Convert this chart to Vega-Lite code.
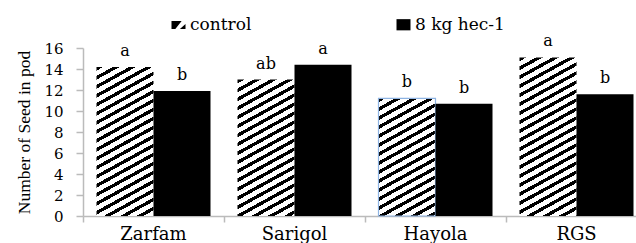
{
  "$schema": "https://vega.github.io/schema/vega-lite/v6.json",
  "width": 564,
  "height": 168,
  "padding": {"left": 15, "top": 16, "right": 0, "bottom": 0},
  "background": "white",
  "config": {"view": {"stroke": null}, "font": "DejaVu Serif", "legend": {"labelFont": "DejaVu Serif", "labelFontSize": 17, "labelColor": "#000"}},
  "data": {"values": [
    {"variety": "Zarfam", "treatment": "control", "value": 14.2, "letter": "a"},
    {"variety": "Zarfam", "treatment": "8 kg hec-1", "value": 11.9, "letter": "b"},
    {"variety": "Sarigol", "treatment": "control", "value": 13.0, "letter": "ab"},
    {"variety": "Sarigol", "treatment": "8 kg hec-1", "value": 14.4, "letter": "a"},
    {"variety": "Hayola", "treatment": "control", "value": 11.2, "letter": "b"},
    {"variety": "Hayola", "treatment": "8 kg hec-1", "value": 10.7, "letter": "b"},
    {"variety": "RGS", "treatment": "control", "value": 15.1, "letter": "a"},
    {"variety": "RGS", "treatment": "8 kg hec-1", "value": 11.6, "letter": "b"}
  ]},
  "encoding": {
    "x": {
      "field": "variety", "type": "nominal",
      "sort": ["Zarfam", "Sarigol", "Hayola", "RGS"],
      "scale": {"domain": ["Zarfam", "Sarigol", "Hayola", "RGS"], "paddingInner": 0, "paddingOuter": 0},
      "axis": {"title": null, "labelAngle": 0, "bandPosition": 0, "ticks": true, "tickSize": 6, "tickColor": "#bbbbbb", "domainColor": "#bbbbbb", "domainWidth": 1.5, "tickWidth": 1.5, "labelFont": "DejaVu Serif", "labelFontSize": 18, "labelColor": "#000", "labelPadding": 3, "grid": false}
    },
    "xOffset": {
      "field": "treatment", "type": "nominal",
      "sort": ["control", "8 kg hec-1"],
      "scale": {"domain": ["control", "8 kg hec-1"], "paddingInner": 0, "paddingOuter": 0.2368}
    },
    "y": {
      "field": "value", "type": "quantitative",
      "scale": {"domain": [0, 16], "nice": false},
      "axis": {"title": "Number of Seed in pod", "titleFont": "Liberation Serif", "titleFontSize": 17.5, "titleFontWeight": "normal", "titleColor": "#000", "titlePadding": 10, "values": [0, 2, 4, 6, 8, 10, 12, 14, 16], "labelFont": "DejaVu Serif", "labelFontSize": 15, "labelColor": "#000", "labelPadding": 13, "tickSize": 7, "tickColor": "#bbbbbb", "tickWidth": 1.5, "domainColor": "#bbbbbb", "domainWidth": 1.5, "grid": false}
    }
  },
  "layer": [
    {
      "transform": [{"filter": "datum.variety === 'Zarfam' && datum.treatment === 'control'"}],
      "mark": {"type": "bar", "fillOpacity": 1, "fill": {"gradient": "linear", "x1": 0, "y1": 0, "x2": 0.25646, "y2": 1.21971, "stops": [
{"offset":0,"color":"#000"},{"offset":0.0199,"color":"#000"},{"offset":0.0199,"color":"#fff"},{"offset":0.0474,"color":"#fff"},
{"offset":0.0474,"color":"#000"},{"offset":0.0673,"color":"#000"},{"offset":0.0673,"color":"#fff"},{"offset":0.0948,"color":"#fff"},
{"offset":0.0948,"color":"#000"},{"offset":0.1147,"color":"#000"},{"offset":0.1147,"color":"#fff"},{"offset":0.1422,"color":"#fff"},
{"offset":0.1422,"color":"#000"},{"offset":0.1621,"color":"#000"},{"offset":0.1621,"color":"#fff"},{"offset":0.1896,"color":"#fff"},
{"offset":0.1896,"color":"#000"},{"offset":0.2095,"color":"#000"},{"offset":0.2095,"color":"#fff"},{"offset":0.237,"color":"#fff"},
{"offset":0.237,"color":"#000"},{"offset":0.2569,"color":"#000"},{"offset":0.2569,"color":"#fff"},{"offset":0.2844,"color":"#fff"},
{"offset":0.2844,"color":"#000"},{"offset":0.3043,"color":"#000"},{"offset":0.3043,"color":"#fff"},{"offset":0.3318,"color":"#fff"},
{"offset":0.3318,"color":"#000"},{"offset":0.3517,"color":"#000"},{"offset":0.3517,"color":"#fff"},{"offset":0.3791,"color":"#fff"},
{"offset":0.3791,"color":"#000"},{"offset":0.399,"color":"#000"},{"offset":0.399,"color":"#fff"},{"offset":0.4265,"color":"#fff"},
{"offset":0.4265,"color":"#000"},{"offset":0.4464,"color":"#000"},{"offset":0.4464,"color":"#fff"},{"offset":0.4739,"color":"#fff"},
{"offset":0.4739,"color":"#000"},{"offset":0.4938,"color":"#000"},{"offset":0.4938,"color":"#fff"},{"offset":0.5213,"color":"#fff"},
{"offset":0.5213,"color":"#000"},{"offset":0.5412,"color":"#000"},{"offset":0.5412,"color":"#fff"},{"offset":0.5687,"color":"#fff"},
{"offset":0.5687,"color":"#000"},{"offset":0.5886,"color":"#000"},{"offset":0.5886,"color":"#fff"},{"offset":0.6161,"color":"#fff"},
{"offset":0.6161,"color":"#000"},{"offset":0.636,"color":"#000"},{"offset":0.636,"color":"#fff"},{"offset":0.6635,"color":"#fff"},
{"offset":0.6635,"color":"#000"},{"offset":0.6834,"color":"#000"},{"offset":0.6834,"color":"#fff"},{"offset":0.7109,"color":"#fff"},
{"offset":0.7109,"color":"#000"},{"offset":0.7308,"color":"#000"},{"offset":0.7308,"color":"#fff"},{"offset":0.7583,"color":"#fff"},
{"offset":0.7583,"color":"#000"},{"offset":0.7782,"color":"#000"},{"offset":0.7782,"color":"#fff"},{"offset":0.8057,"color":"#fff"},
{"offset":0.8057,"color":"#000"},{"offset":0.8256,"color":"#000"},{"offset":0.8256,"color":"#fff"},{"offset":0.8531,"color":"#fff"},
{"offset":0.8531,"color":"#000"},{"offset":0.873,"color":"#000"},{"offset":0.873,"color":"#fff"},{"offset":0.9005,"color":"#fff"},
{"offset":0.9005,"color":"#000"},{"offset":0.9204,"color":"#000"},{"offset":0.9204,"color":"#fff"},{"offset":0.9479,"color":"#fff"},
{"offset":0.9479,"color":"#000"},{"offset":0.9678,"color":"#000"},{"offset":0.9678,"color":"#fff"},{"offset":0.9953,"color":"#fff"},
{"offset":0.9953,"color":"#000"},{"offset":1,"color":"#000"}
      ]}}
    },
    {
      "transform": [{"filter": "datum.variety === 'Sarigol' && datum.treatment === 'control'"}],
      "mark": {"type": "bar", "fillOpacity": 1, "fill": {"gradient": "linear", "x1": 0, "y1": 0, "x2": 0.30351, "y2": 1.3215, "stops": [
{"offset":0,"color":"#000"},{"offset":0.0199,"color":"#000"},{"offset":0.0199,"color":"#fff"},{"offset":0.0474,"color":"#fff"},
{"offset":0.0474,"color":"#000"},{"offset":0.0673,"color":"#000"},{"offset":0.0673,"color":"#fff"},{"offset":0.0948,"color":"#fff"},
{"offset":0.0948,"color":"#000"},{"offset":0.1147,"color":"#000"},{"offset":0.1147,"color":"#fff"},{"offset":0.1422,"color":"#fff"},
{"offset":0.1422,"color":"#000"},{"offset":0.1621,"color":"#000"},{"offset":0.1621,"color":"#fff"},{"offset":0.1896,"color":"#fff"},
{"offset":0.1896,"color":"#000"},{"offset":0.2095,"color":"#000"},{"offset":0.2095,"color":"#fff"},{"offset":0.237,"color":"#fff"},
{"offset":0.237,"color":"#000"},{"offset":0.2569,"color":"#000"},{"offset":0.2569,"color":"#fff"},{"offset":0.2844,"color":"#fff"},
{"offset":0.2844,"color":"#000"},{"offset":0.3043,"color":"#000"},{"offset":0.3043,"color":"#fff"},{"offset":0.3318,"color":"#fff"},
{"offset":0.3318,"color":"#000"},{"offset":0.3517,"color":"#000"},{"offset":0.3517,"color":"#fff"},{"offset":0.3791,"color":"#fff"},
{"offset":0.3791,"color":"#000"},{"offset":0.399,"color":"#000"},{"offset":0.399,"color":"#fff"},{"offset":0.4265,"color":"#fff"},
{"offset":0.4265,"color":"#000"},{"offset":0.4464,"color":"#000"},{"offset":0.4464,"color":"#fff"},{"offset":0.4739,"color":"#fff"},
{"offset":0.4739,"color":"#000"},{"offset":0.4938,"color":"#000"},{"offset":0.4938,"color":"#fff"},{"offset":0.5213,"color":"#fff"},
{"offset":0.5213,"color":"#000"},{"offset":0.5412,"color":"#000"},{"offset":0.5412,"color":"#fff"},{"offset":0.5687,"color":"#fff"},
{"offset":0.5687,"color":"#000"},{"offset":0.5886,"color":"#000"},{"offset":0.5886,"color":"#fff"},{"offset":0.6161,"color":"#fff"},
{"offset":0.6161,"color":"#000"},{"offset":0.636,"color":"#000"},{"offset":0.636,"color":"#fff"},{"offset":0.6635,"color":"#fff"},
{"offset":0.6635,"color":"#000"},{"offset":0.6834,"color":"#000"},{"offset":0.6834,"color":"#fff"},{"offset":0.7109,"color":"#fff"},
{"offset":0.7109,"color":"#000"},{"offset":0.7308,"color":"#000"},{"offset":0.7308,"color":"#fff"},{"offset":0.7583,"color":"#fff"},
{"offset":0.7583,"color":"#000"},{"offset":0.7782,"color":"#000"},{"offset":0.7782,"color":"#fff"},{"offset":0.8057,"color":"#fff"},
{"offset":0.8057,"color":"#000"},{"offset":0.8256,"color":"#000"},{"offset":0.8256,"color":"#fff"},{"offset":0.8531,"color":"#fff"},
{"offset":0.8531,"color":"#000"},{"offset":0.873,"color":"#000"},{"offset":0.873,"color":"#fff"},{"offset":0.9005,"color":"#fff"},
{"offset":0.9005,"color":"#000"},{"offset":0.9204,"color":"#000"},{"offset":0.9204,"color":"#fff"},{"offset":0.9479,"color":"#fff"},
{"offset":0.9479,"color":"#000"},{"offset":0.9678,"color":"#000"},{"offset":0.9678,"color":"#fff"},{"offset":0.9953,"color":"#fff"},
{"offset":0.9953,"color":"#000"},{"offset":1,"color":"#000"}
      ]}}
    },
    {
      "transform": [{"filter": "datum.variety === 'Hayola' && datum.treatment === 'control'"}],
      "mark": {"type": "bar", "fillOpacity": 1, "stroke": "#8eb4e3", "strokeWidth": 1.2, "fill": {"gradient": "linear", "x1": 0, "y1": 0, "x2": 0.40191, "y2": 1.50765, "stops": [
{"offset":0,"color":"#000"},{"offset":0.0199,"color":"#000"},{"offset":0.0199,"color":"#fff"},{"offset":0.0474,"color":"#fff"},
{"offset":0.0474,"color":"#000"},{"offset":0.0673,"color":"#000"},{"offset":0.0673,"color":"#fff"},{"offset":0.0948,"color":"#fff"},
{"offset":0.0948,"color":"#000"},{"offset":0.1147,"color":"#000"},{"offset":0.1147,"color":"#fff"},{"offset":0.1422,"color":"#fff"},
{"offset":0.1422,"color":"#000"},{"offset":0.1621,"color":"#000"},{"offset":0.1621,"color":"#fff"},{"offset":0.1896,"color":"#fff"},
{"offset":0.1896,"color":"#000"},{"offset":0.2095,"color":"#000"},{"offset":0.2095,"color":"#fff"},{"offset":0.237,"color":"#fff"},
{"offset":0.237,"color":"#000"},{"offset":0.2569,"color":"#000"},{"offset":0.2569,"color":"#fff"},{"offset":0.2844,"color":"#fff"},
{"offset":0.2844,"color":"#000"},{"offset":0.3043,"color":"#000"},{"offset":0.3043,"color":"#fff"},{"offset":0.3318,"color":"#fff"},
{"offset":0.3318,"color":"#000"},{"offset":0.3517,"color":"#000"},{"offset":0.3517,"color":"#fff"},{"offset":0.3791,"color":"#fff"},
{"offset":0.3791,"color":"#000"},{"offset":0.399,"color":"#000"},{"offset":0.399,"color":"#fff"},{"offset":0.4265,"color":"#fff"},
{"offset":0.4265,"color":"#000"},{"offset":0.4464,"color":"#000"},{"offset":0.4464,"color":"#fff"},{"offset":0.4739,"color":"#fff"},
{"offset":0.4739,"color":"#000"},{"offset":0.4938,"color":"#000"},{"offset":0.4938,"color":"#fff"},{"offset":0.5213,"color":"#fff"},
{"offset":0.5213,"color":"#000"},{"offset":0.5412,"color":"#000"},{"offset":0.5412,"color":"#fff"},{"offset":0.5687,"color":"#fff"},
{"offset":0.5687,"color":"#000"},{"offset":0.5886,"color":"#000"},{"offset":0.5886,"color":"#fff"},{"offset":0.6161,"color":"#fff"},
{"offset":0.6161,"color":"#000"},{"offset":0.636,"color":"#000"},{"offset":0.636,"color":"#fff"},{"offset":0.6635,"color":"#fff"},
{"offset":0.6635,"color":"#000"},{"offset":0.6834,"color":"#000"},{"offset":0.6834,"color":"#fff"},{"offset":0.7109,"color":"#fff"},
{"offset":0.7109,"color":"#000"},{"offset":0.7308,"color":"#000"},{"offset":0.7308,"color":"#fff"},{"offset":0.7583,"color":"#fff"},
{"offset":0.7583,"color":"#000"},{"offset":0.7782,"color":"#000"},{"offset":0.7782,"color":"#fff"},{"offset":0.8057,"color":"#fff"},
{"offset":0.8057,"color":"#000"},{"offset":1,"color":"#000"}
      ]}}
    },
    {
      "transform": [{"filter": "datum.variety === 'RGS' && datum.treatment === 'control'"}],
      "mark": {"type": "bar", "fillOpacity": 1, "fill": {"gradient": "linear", "x1": 0, "y1": 0, "x2": 0.22792, "y2": 1.15266, "stops": [
{"offset":0,"color":"#000"},{"offset":0.0199,"color":"#000"},{"offset":0.0199,"color":"#fff"},{"offset":0.0474,"color":"#fff"},
{"offset":0.0474,"color":"#000"},{"offset":0.0673,"color":"#000"},{"offset":0.0673,"color":"#fff"},{"offset":0.0948,"color":"#fff"},
{"offset":0.0948,"color":"#000"},{"offset":0.1147,"color":"#000"},{"offset":0.1147,"color":"#fff"},{"offset":0.1422,"color":"#fff"},
{"offset":0.1422,"color":"#000"},{"offset":0.1621,"color":"#000"},{"offset":0.1621,"color":"#fff"},{"offset":0.1896,"color":"#fff"},
{"offset":0.1896,"color":"#000"},{"offset":0.2095,"color":"#000"},{"offset":0.2095,"color":"#fff"},{"offset":0.237,"color":"#fff"},
{"offset":0.237,"color":"#000"},{"offset":0.2569,"color":"#000"},{"offset":0.2569,"color":"#fff"},{"offset":0.2844,"color":"#fff"},
{"offset":0.2844,"color":"#000"},{"offset":0.3043,"color":"#000"},{"offset":0.3043,"color":"#fff"},{"offset":0.3318,"color":"#fff"},
{"offset":0.3318,"color":"#000"},{"offset":0.3517,"color":"#000"},{"offset":0.3517,"color":"#fff"},{"offset":0.3791,"color":"#fff"},
{"offset":0.3791,"color":"#000"},{"offset":0.399,"color":"#000"},{"offset":0.399,"color":"#fff"},{"offset":0.4265,"color":"#fff"},
{"offset":0.4265,"color":"#000"},{"offset":0.4464,"color":"#000"},{"offset":0.4464,"color":"#fff"},{"offset":0.4739,"color":"#fff"},
{"offset":0.4739,"color":"#000"},{"offset":0.4938,"color":"#000"},{"offset":0.4938,"color":"#fff"},{"offset":0.5213,"color":"#fff"},
{"offset":0.5213,"color":"#000"},{"offset":0.5412,"color":"#000"},{"offset":0.5412,"color":"#fff"},{"offset":0.5687,"color":"#fff"},
{"offset":0.5687,"color":"#000"},{"offset":0.5886,"color":"#000"},{"offset":0.5886,"color":"#fff"},{"offset":0.6161,"color":"#fff"},
{"offset":0.6161,"color":"#000"},{"offset":0.636,"color":"#000"},{"offset":0.636,"color":"#fff"},{"offset":0.6635,"color":"#fff"},
{"offset":0.6635,"color":"#000"},{"offset":0.6834,"color":"#000"},{"offset":0.6834,"color":"#fff"},{"offset":0.7109,"color":"#fff"},
{"offset":0.7109,"color":"#000"},{"offset":0.7308,"color":"#000"},{"offset":0.7308,"color":"#fff"},{"offset":0.7583,"color":"#fff"},
{"offset":0.7583,"color":"#000"},{"offset":0.7782,"color":"#000"},{"offset":0.7782,"color":"#fff"},{"offset":0.8057,"color":"#fff"},
{"offset":0.8057,"color":"#000"},{"offset":0.8256,"color":"#000"},{"offset":0.8256,"color":"#fff"},{"offset":0.8531,"color":"#fff"},
{"offset":0.8531,"color":"#000"},{"offset":0.873,"color":"#000"},{"offset":0.873,"color":"#fff"},{"offset":0.9005,"color":"#fff"},
{"offset":0.9005,"color":"#000"},{"offset":0.9204,"color":"#000"},{"offset":0.9204,"color":"#fff"},{"offset":0.9479,"color":"#fff"},
{"offset":0.9479,"color":"#000"},{"offset":0.9678,"color":"#000"},{"offset":0.9678,"color":"#fff"},{"offset":0.9953,"color":"#fff"},
{"offset":0.9953,"color":"#000"},{"offset":1,"color":"#000"}
      ]}}
    },
    {
      "transform": [{"filter": "datum.treatment === '8 kg hec-1'"}],
      "mark": {"type": "bar", "fill": "#000", "fillOpacity": 1}
    },
    {
      "mark": {"type": "text", "font": "DejaVu Serif", "fontSize": 16, "color": "#000", "baseline": "alphabetic", "dy": -11},
      "encoding": {"text": {"field": "letter"}}
    },
    {
      "mark": {"type": "point", "filled": true, "color": "#000", "opacity": 0},
      "encoding": {
        "shape": {
          "field": "treatment", "type": "nominal",
          "scale": {"domain": ["control", "8 kg hec-1"], "range": ["M-1,-0.55L0.45,-0.55L-0.45,0.6L-1,0.6Z M1,-0.1L1,0.6L0.2,0.6Z", "M-1,-0.8L1,-0.8L1,0.8L-1,0.8Z"]},
          "legend": {"title": null, "orient": "none", "legendX": 87, "legendY": -32, "direction": "horizontal", "columnPadding": 143, "labelFont": "DejaVu Serif", "labelFontSize": 17, "labelColor": "#000", "symbolSize": 196, "labelOffset": 3, "padding": 0, "symbolStrokeWidth": 0, "symbolFillColor": "#000", "encode": {"symbols": {"update": {"opacity": {"value": 1}, "fill": {"value": "#000"}}}}}
        }
      }
    }
  ]
}
